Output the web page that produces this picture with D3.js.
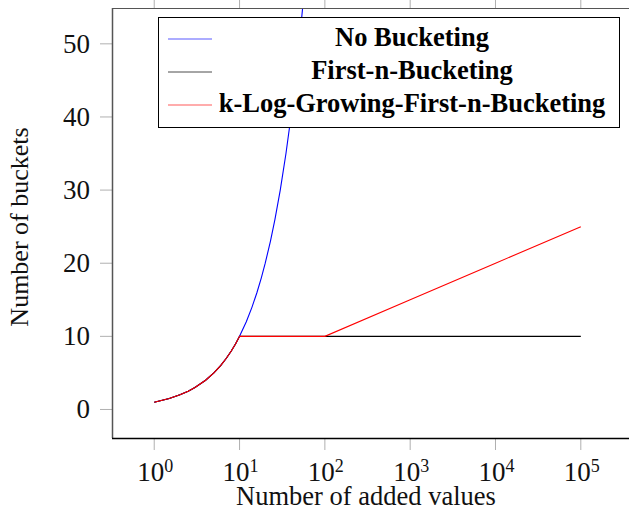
<!DOCTYPE html>
<html>
<head>
<meta charset="utf-8">
<script src="https://cdn.jsdelivr.net/npm/d3@7"></script>
<style>
  body { margin: 0; background: #fff; }
  svg text { font-family: "Liberation Serif", "Times New Roman", Times, serif; }
</style>
</head>
<body>
<div id="chart"></div>
<script>
// plot box (right side runs past the window, like the reference)
const width = 629, height = 510;
const plot = { left: 112, right: 632, top: 8, bottom: 438 };

// series values
const noBucketX = [1, 1.5, 2, 2.5, 3, 4, 5, 6, 7, 8, 9, 10, 12, 14, 16, 18, 20, 23, 26, 30, 35, 40, 45, 50, 56, 62];
const noBucketY = [1, 1.5, 2, 2.5, 3, 4, 5, 6, 7, 8, 9, 10, 12, 14, 16, 18, 20, 23, 26, 30, 35, 40, 45, 50, 56, 62];
const firstNX = [1, 1.5, 2, 2.5, 3, 4, 5, 6, 7, 8, 9, 10, 100, 1000, 10000, 100000];
const firstNY = [1, 1.5, 2, 2.5, 3, 4, 5, 6, 7, 8, 9, 10, 10, 10, 10, 10];
const kLogX = [1, 1.5, 2, 2.5, 3, 4, 5, 6, 7, 8, 9, 10, 100, 1000, 10000, 100000];
const kLogY = [1, 1.5, 2, 2.5, 3, 4, 5, 6, 7, 8, 9, 10, 10, 15, 20, 25];

const seriesNames = ["No Bucketing", "First-n-Bucketing", "k-Log-Growing-First-n-Bucketing"];
const seriesColors = ["#0000ff", "#000000", "#ff0000"];

const xTickExps = [0, 1, 2, 3, 4, 5];
const yTicks = [0, 10, 20, 30, 40, 50];

const serif = "'Liberation Serif', 'Times New Roman', serif";

const series = [
    noBucketX.map((x, i) => [x, noBucketY[i]]),
    firstNX.map((x, i) => [x, firstNY[i]]),
    kLogX.map((x, i) => [x, kLogY[i]])
];

const x = d3.scaleLog()
    .domain([Math.pow(10, -0.495), Math.pow(10, 5.6)])
    .range([plot.left, plot.right]);
const y = d3.scaleLinear()
    .domain([-3.9, 54.9])
    .range([plot.bottom, plot.top]);

const svg = d3.select("#chart").append("svg")
    .attr("width", width)
    .attr("height", height)
    .attr("font-family", serif);

svg.append("defs").append("clipPath")
    .attr("id", "clip")
    .append("rect")
    .attr("x", plot.left).attr("y", plot.top)
    .attr("width", plot.right - plot.left)
    .attr("height", plot.bottom - plot.top);

// ticks (outside, light gray)
const tickLen = 12;
svg.append("g").selectAll("line")
    .data(xTickExps)
    .enter().append("line")
    .attr("x1", d => x(Math.pow(10, d))).attr("x2", d => x(Math.pow(10, d)))
    .attr("y1", plot.bottom).attr("y2", plot.bottom + tickLen)
    .attr("stroke", "#b0b0b0");
svg.append("g").selectAll("line")
    .data(xTickExps)
    .enter().append("line")
    .attr("x1", d => x(Math.pow(10, d))).attr("x2", d => x(Math.pow(10, d)))
    .attr("y1", plot.top).attr("y2", plot.top - tickLen)
    .attr("stroke", "#b0b0b0");
svg.append("g").selectAll("line")
    .data(yTicks)
    .enter().append("line")
    .attr("x1", plot.left - tickLen).attr("x2", plot.left)
    .attr("y1", d => y(d)).attr("y2", d => y(d))
    .attr("stroke", "#b0b0b0");

// lines
const line = d3.line()
    .x(d => x(d[0]))
    .y(d => y(d[1]));
svg.append("g")
    .attr("clip-path", "url(#clip)")
    .selectAll("path")
    .data(series)
    .enter().append("path")
    .attr("d", line)
    .attr("fill", "none")
    .attr("stroke", (d, i) => seriesColors[i])
    .attr("stroke-width", 1.1);

// frame
svg.append("line")
    .attr("x1", plot.left).attr("x2", plot.right)
    .attr("y1", plot.top + 0.5).attr("y2", plot.top + 0.5)
    .attr("stroke", "#555");
svg.append("line")
    .attr("x1", plot.left + 0.5).attr("x2", plot.left + 0.5)
    .attr("y1", plot.top).attr("y2", plot.bottom)
    .attr("stroke", "#555").attr("stroke-width", 1.5);
svg.append("line")
    .attr("x1", plot.left).attr("x2", plot.right)
    .attr("y1", plot.bottom + 0.5).attr("y2", plot.bottom + 0.5)
    .attr("stroke", "#000").attr("stroke-width", 1.5);

// tick labels
const xl = svg.append("g").selectAll("text")
    .data(xTickExps)
    .enter().append("text")
    .attr("x", d => x(Math.pow(10, d)) + 1)
    .attr("y", 481)
    .attr("text-anchor", "middle")
    .attr("font-family", serif)
    .style("font-size", "27px")
    .style("fill", "#111");
xl.append("tspan").text("10");
xl.append("tspan")
    .attr("dy", -9)
    .style("font-size", "18px")
    .text(d => d);

svg.append("g").selectAll("text")
    .data(yTicks)
    .enter().append("text")
    .attr("x", 90)
    .attr("y", d => y(d) + 9)
    .attr("text-anchor", "end")
    .attr("font-family", serif)
    .style("font-size", "27px")
    .style("fill", "#111")
    .text(d => d);

// axis titles
svg.append("text")
    .attr("x", 366)
    .attr("y", 505)
    .attr("text-anchor", "middle")
    .attr("font-family", serif)
    .style("font-size", "26.5px")
    .style("fill", "#111")
    .text("Number of added values");
svg.append("text")
    .attr("transform", "translate(28,227) rotate(-90)")
    .attr("text-anchor", "middle")
    .attr("font-family", serif)
    .style("font-size", "26px")
    .style("fill", "#111")
    .text("Number of buckets");

// legend
const legend = svg.append("g");
legend.append("rect")
    .attr("x", 158.5).attr("y", 17.5)
    .attr("width", 461).attr("height", 110)
    .attr("fill", "#fff")
    .attr("stroke", "#000");
const rows = legend.selectAll("g")
    .data(seriesNames)
    .enter().append("g")
    .attr("transform", (d, i) => `translate(0,${39 + i * 33})`);
rows.append("line")
    .attr("x1", 168).attr("x2", 212)
    .attr("y1", 0).attr("y2", 0)
    .attr("stroke", (d, i) => seriesColors[i])
    .attr("stroke-opacity", (d, i) => i === 1 ? 0.7 : 0.65);
rows.append("text")
    .attr("x", 412)
    .attr("y", 7)
    .attr("text-anchor", "middle")
    .attr("font-family", serif)
    .style("font-size", "26.5px")
    .style("font-weight", "bold")
    .style("fill", "#000")
    .text(d => d);
</script>
</body>
</html>
